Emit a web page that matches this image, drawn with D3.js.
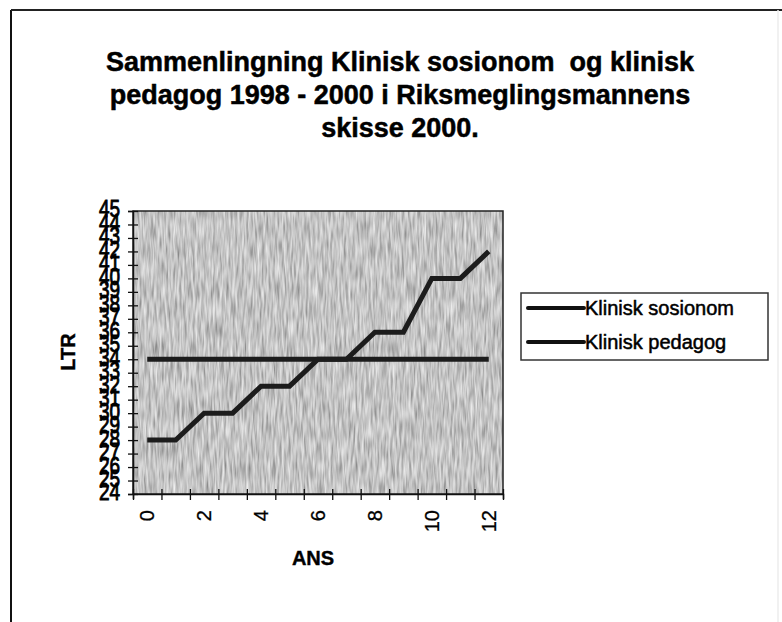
<!DOCTYPE html>
<html>
<head>
<meta charset="utf-8">
<script src="https://cdn.jsdelivr.net/npm/d3@7.9.0/dist/d3.min.js"></script>
<style>
  html, body { margin: 0; padding: 0; background: #fff; }
  svg { display: block; font-family: "Liberation Sans", Arial, sans-serif; }
</style>
</head>
<body>
<svg id="chart" width="782" height="622"></svg>
<script>
/* ---------- Data ---------- */
const titleLines = [
  "Sammenlingning Klinisk sosionom  og klinisk",
  "pedagog 1998 - 2000 i Riksmeglingsmannens",
  "skisse 2000."
];
const categories = d3.range(0, 13);               // ANS 0..12
const xLabels    = [0, 2, 4, 6, 8, 10, 12];
const yTicks     = d3.range(24, 46);              // LTR 24..45
const seriesNames = ["Klinisk sosionom", "Klinisk pedagog"];
const sosionom   = [34, 34, 34, 34, 34, 34, 34, 34, 34, 34, 34, 34, 34];
const pedagog    = [28, 28, 30, 30, 32, 32, 34, 34, 36, 36, 40, 40, 42];

/* ---------- Layout ---------- */
const svg = d3.select('#chart');
const plot = { left: 133, top: 211, right: 503, bottom: 494 };

const x = d3.scaleBand().domain(categories).range([plot.left, plot.right]);
const xEdge = d3.scaleLinear().domain([0, categories.length]).range([plot.left, plot.right]);
const y = d3.scaleLinear().domain([24, 45]).range([plot.bottom, plot.top]);

/* ---------- Page frame ---------- */
svg.append('line').attr('x1', 11).attr('x2', 11).attr('y1', 10).attr('y2', 622)
  .attr('stroke', '#111').attr('stroke-width', 2);
svg.append('line').attr('x1', 11).attr('x2', 782).attr('y1', 10).attr('y2', 10)
  .attr('stroke', '#222').attr('stroke-width', 2);
svg.append('line').attr('x1', 778).attr('x2', 778).attr('y1', 10).attr('y2', 622)
  .attr('stroke', '#ededed').attr('stroke-width', 1.5);

/* ---------- Title ---------- */
svg.append('g').selectAll('text')
  .data(titleLines)
  .enter().append('text')
  .attr('x', 400)
  .attr('y', (d, i) => 71 + i * 33)
  .attr('text-anchor', 'middle')
  .attr('font-size', 27)
  .attr('font-weight', 'bold')
  .attr('stroke', '#000').attr('stroke-width', 0.5)
  .style('white-space', 'pre')
  .text(d => d);

/* ---------- Plot background (scanned grey texture) ---------- */
const defs = svg.append('defs');
const f = defs.append('filter').attr('id', 'grain')
  .attr('x', 0).attr('y', 0).attr('width', 1).attr('height', 1);
f.append('feTurbulence').attr('type', 'fractalNoise')
  .attr('baseFrequency', '0.45 0.05').attr('numOctaves', 2).attr('seed', 7).attr('result', 'n');
f.append('feColorMatrix').attr('type', 'matrix').attr('in', 'n')
  .attr('values', '0.8 0 0 0 0.15  0.8 0 0 0 0.15  0.8 0 0 0 0.15  0 0 0 0 1');

svg.append('rect')
  .attr('x', plot.left).attr('y', plot.top)
  .attr('width', plot.right - plot.left).attr('height', plot.bottom - plot.top)
  .attr('fill', '#9c9c9c')
  .attr('filter', 'url(#grain)');
svg.append('rect')
  .attr('x', plot.left).attr('y', plot.top)
  .attr('width', plot.right - plot.left).attr('height', plot.bottom - plot.top)
  .attr('fill', 'none').attr('stroke', '#222').attr('stroke-width', 1.5);

/* ---------- Axes ---------- */
const yAxis = svg.append('g')
  .attr('transform', `translate(${plot.left},0)`)
  .call(d3.axisLeft(y).tickValues(yTicks).tickSize(5).tickPadding(8));
yAxis.select('.domain').attr('stroke', '#111').attr('stroke-width', 1.5);
yAxis.selectAll('.tick line').attr('x1', -5).attr('x2', 5).attr('stroke', '#111').attr('stroke-width', 1.3);
yAxis.selectAll('.tick text')
  .attr('font-size', 19).attr('fill', '#000')
  .attr('stroke', '#000').attr('stroke-width', 0.7)
  .attr('font-family', '"Liberation Sans", Arial, sans-serif')
  .attr('dy', '0.25em')
  .attr('transform', 'scale(1,1.25)');

const xTicks = svg.append('g')
  .attr('transform', `translate(0,${plot.bottom})`)
  .call(d3.axisBottom(xEdge).tickValues(d3.range(categories.length + 1)).tickSize(5).tickFormat(''));
xTicks.select('.domain').attr('stroke', '#111').attr('stroke-width', 1.5);
xTicks.selectAll('.tick line').attr('y1', -5).attr('y2', 6).attr('stroke', '#111').attr('stroke-width', 1.3);

const xAxis = svg.append('g')
  .attr('transform', `translate(0,${plot.bottom})`)
  .call(d3.axisBottom(x).tickValues(xLabels).tickSize(0).tickPadding(0));
xAxis.select('.domain').remove();
xAxis.selectAll('.tick text')
  .attr('font-size', 20).attr('fill', '#000')
  .attr('stroke', '#000').attr('stroke-width', 0.3)
  .attr('font-family', '"Liberation Sans", Arial, sans-serif')
  .attr('text-anchor', 'end')
  .attr('dy', null)
  .attr('transform', 'translate(7,16) rotate(-90)');

/* ---------- Axis titles ---------- */
svg.append('text')
  .attr('transform', 'translate(75,352) rotate(-90)')
  .attr('text-anchor', 'middle')
  .attr('font-size', 20).attr('font-weight', 'bold')
  .attr('stroke', '#000').attr('stroke-width', 0.4)
  .text('LTR');
svg.append('text')
  .attr('x', 313).attr('y', 565)
  .attr('text-anchor', 'middle')
  .attr('font-size', 20).attr('font-weight', 'bold')
  .attr('stroke', '#000').attr('stroke-width', 0.4)
  .text('ANS');

/* ---------- Lines ---------- */
const line = d3.line()
  .x((d, i) => x(categories[i]) + x.bandwidth() / 2)
  .y(d => y(d));

svg.append('g').selectAll('path')
  .data([sosionom, pedagog])
  .enter().append('path')
  .attr('d', line)
  .attr('fill', 'none')
  .attr('stroke', '#1c1c1c')
  .attr('stroke-width', 5);

/* ---------- Legend ---------- */
const legend = svg.append('g').attr('transform', 'translate(521,293)');
legend.append('rect')
  .attr('width', 247).attr('height', 67)
  .attr('fill', '#fff').attr('stroke', '#333').attr('stroke-width', 1.5);
const items = legend.selectAll('g.item')
  .data(seriesNames)
  .enter().append('g')
  .attr('class', 'item')
  .attr('transform', (d, i) => `translate(0,${15 + i * 34})`);
items.append('line')
  .attr('x1', 7).attr('x2', 63)
  .attr('stroke', '#111').attr('stroke-width', 4).attr('stroke-linecap', 'round');
items.append('text')
  .attr('x', 64).attr('y', 7)
  .attr('font-size', 20)
  .attr('stroke', '#000').attr('stroke-width', 0.5)
  .text(d => d);
</script>
</body>
</html>
